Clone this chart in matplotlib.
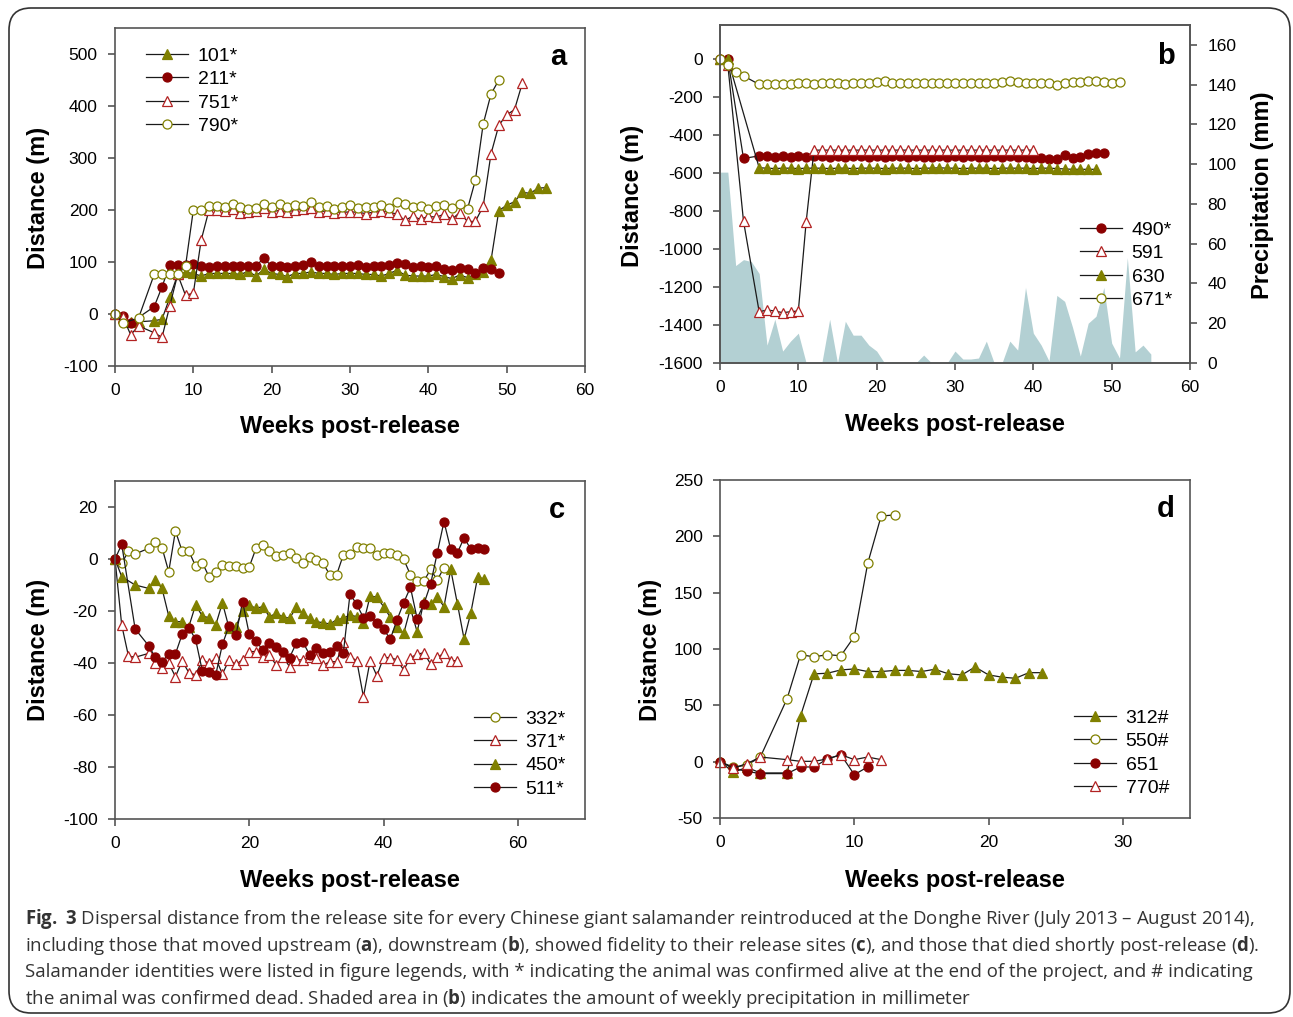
import matplotlib.pyplot as plt
from matplotlib.patches import FancyBboxPatch
from matplotlib.transforms import IdentityTransform

# ---------------- data (distance in m, by week post-release) ----------------
# panel a : moved upstream
wk_101 = [0, 1, 2, 3, 5, 6, 7, 8] + list(range(9, 56))
d_101 = [0, -8, -15, -15, -13, -10, 32, 76,
         80, 78, 73, 78, 78, 78, 78, 76, 82, 73, 86, 78, 76, 72, 78, 78, 81, 78, 78, 76, 78, 78, 78,
         76, 76, 73, 78, 84, 75, 73, 73, 73, 76, 72, 68, 75, 70,
         76, 80, 103, 199, 209, 216, 234, 232, 242, 243]
wk_211 = [0, 1, 2, 5, 6, 7, 8] + list(range(9, 50))
d_211 = [0, -4, -17, 14, 52, 95, 95,
         95, 97, 92, 91, 92, 92, 93, 92, 92, 93, 107, 92, 92, 91, 93, 94, 100, 92, 92, 92, 92, 93, 94,
         91, 92, 93, 94, 98, 97, 91, 93, 91, 92, 87, 84, 88, 86,
         78, 88, 86, 79]
wk_751 = [0, 1, 2, 3, 5, 6, 7, 8, 9, 10, 11] + list(range(12, 53))
d_751 = [0, -5, -40, -23, -36, -45, 16, 76, 36, 40, 142,
         200, 200, 198, 201, 195, 196, 198, 203, 197, 199, 196, 200, 201, 203, 197, 198, 195,
         196, 196, 196, 193, 196, 198, 196, 192, 180, 188, 182, 188, 186, 192, 182, 195, 178,
         178, 207, 308, 363, 383, 393, 444]
wk_790 = [0, 1, 3, 5, 6, 7, 8, 9, 10, 11] + list(range(12, 50))
d_790 = [0, -17, -8, 76, 76, 76, 76, 92, 200, 200,
         207, 207, 206, 212, 206, 201, 203, 212, 206, 212, 206, 209, 207, 216, 206, 208, 201, 206, 209, 204,
         206, 206, 209, 204, 216, 211, 206, 207, 202, 207, 209, 204, 212, 202,
         257, 365, 423, 450]

# panel b : moved downstream (+ weekly precipitation, mm)
wk_490 = [0, 1, 3] + list(range(5, 50))
d_490 = [0, 0, -523,
         -509, -512, -514, -512, -514, -512, -514, -512, -512, -514, -512, -514, -512, -512, -514, -512, -514,
         -512, -512, -514, -512, -514, -516, -512, -514, -512, -514, -512, -516, -514, -512, -514, -512, -514, -516,
         -518, -523, -526, -526, -505, -518, -514, -497, -493, -493]
wk_591 = [0, 1, 3, 5, 6, 7, 8, 9, 10, 11] + list(range(12, 41))
d_591 = [0, -30, -853, -1330, -1321, -1326, -1335, -1330, -1326, -856,
         -479, -479, -479, -479, -479, -479, -479, -479, -479, -479, -479, -479, -479, -479, -479,
         -479, -479, -479, -479, -479, -479, -479, -479, -479, -479, -479, -479, -479, -479]
wk_630 = [0, 1] + list(range(5, 49))
d_630 = [0, 0,
         -572, -574, -576, -574, -574, -576, -574, -574, -574, -576, -574, -574, -576, -574, -574, -574, -576,
         -574, -574, -574, -576, -574, -574, -572, -574, -574, -576, -574, -574, -574, -576, -574, -574, -574, -574,
         -576, -574, -574, -576, -578, -580, -580, -580, -580]
wk_671 = [0, 1, 2, 3] + list(range(5, 52))
d_671 = [0, -32, -70, -88,
         -133, -133, -133, -133, -130, -126, -124, -130, -128, -123, -123, -130, -126, -124, -123, -119, -116,
         -123, -123, -126, -126, -126, -123, -126, -126, -126,
         -128, -128, -128, -128, -124, -119, -116, -119, -124, -124, -124, -124, -137, -124, -119, -119, -116,
         -116, -119, -124, -119]
wk_rain = list(range(0, 56))
rain = [96, 96, 49, 52, 51, 45, 9, 22, 6, 11, 15, 0, 0, 0, 22, 0, 21, 14, 14, 9, 6, 0, 0.5, 0, 0, 0,
        4, 0, 0, 0, 6, 2, 2, 2.5, 11, 0, 0, 11, 6.5, 38, 15, 9, 1, 34, 31, 18, 3.5, 20, 23.5, 38, 10,
        2.5, 53, 5.6, 9, 4.5]

# panel c : fidelity to release site
wk_332 = [0, 1, 2, 3] + list(range(5, 50))
d_332 = [0, -1.7, 3, 1.9,
         4.1, 6.7, 4.4, -4.9, 10.8, 3, 3, -2.7, -1.4, -6.8, -4.9, -2.3, -2.7, -2.7, -3.6, -3, 4.1, 5.4,
         3.1, 1.2, 1.5, 2.4, 0.3, -1.7, 0.6, -0.4, -1.7, -6.1, -6.1, 1.5, 1.9, 4.5, 4.1, 4.1, 1.5, 2.2,
         2.4, 1.5, -0.1, -6.1, -8.5, -8.5, -4, -8.1, -3.3]
wk_371 = [0, 1, 2, 3] + list(range(5, 52))
d_371 = [0, -25.4, -37.3, -37.8,
         -36.3, -40.1, -42, -40, -45.3, -39.2, -43.7, -44.6, -38.8, -40.1, -38.2, -44.2, -38.8, -40.5,
         -38.8, -35.6, -35.6, -37.8, -36.9, -40.8, -37.6, -41.4, -38.8, -38.8, -37.6, -38.2, -40.8,
         -39.5, -39.5, -32, -37.6, -39.1, -53, -39.1, -44.9, -37.9, -37.9, -38.8, -42.7, -37.9, -36.7,
         -36, -40.4, -37.8, -36.3, -39.1, -39.1]
wk_450 = [0, 1, 3] + list(range(5, 56))
d_450 = [0, -6.8, -10,
         -11.3, -8.1, -11.3, -21.9, -24.1, -24.1, -26, -17.7, -21.9, -22.6, -25.4, -16.8, -26.7, -26,
         -19.9, -17.7, -19, -18.3, -22.2, -20.9, -22.2, -22.8, -18.6, -20.9, -22.8, -24.1, -24.5, -25,
         -23.4, -22.8, -21.5, -22.2, -24.7, -14.2, -14.7, -18.3, -22.4, -26, -28.6, -19, -28, -16.4,
         -17.3, -14.7, -18.3, -4, -17.3, -30.9, -20.6, -7.1, -7.6]
wk_511 = [0, 1, 3] + list(range(5, 56))
d_511 = [0, 5.6, -26.9,
         -33.3, -37.8, -39.5, -36.5, -36.5, -29, -26.4, -30.9, -43, -43.3, -44.6, -32.8, -25.6, -29.4,
         -16.4, -29, -31.5, -35, -32.4, -34, -35.6, -37.9, -32.4, -32, -36.9, -34.4, -36.3, -35.6,
         -33.3, -36.3, -13.5, -17.4, -22.6, -21.9, -24.7, -27, -30.8, -23.4, -16.8, -10.9, -22.9,
         -17.3, -9.7, 2.4, 14.4, 3.7, 2.4, 8.2, 3.7, 4.1, 3.7]

# panel d : died shortly post-release
wk_312 = [0, 1, 2, 3] + list(range(5, 25))
d_312 = [0, -9.4, -5, -10, -10, 40.7, 77.9, 78.5, 81.4, 82.3, 80, 80, 81, 81, 80, 82, 78, 77, 84, 77,
         75, 74, 79, 79]
wk_550 = [0, 1, 2, 3] + list(range(5, 14))
d_550 = [0, -5, -3, 4, 56, 95, 93, 95, 94, 111, 176, 218, 219]
wk_651 = [0, 1, 2, 3] + list(range(5, 12))
d_651 = [0, -6, -8.6, -10.6, -10.6, -4.7, -4.7, 2.4, 6.2, -11.5, -4.7]
wk_770 = [0, 1, 2, 3] + list(range(5, 13))
d_770 = [0, -5.6, -1.8, 4.1, 1.8, 0.3, 0.3, 2.4, 6.2, 1.8, 4.1, 1.8]

caption = [
    r"$\mathbf{Fig.\;3}$ Dispersal distance from the release site for every Chinese giant salamander reintroduced at the Donghe River (July 2013 – August 2014),",
    r"including those that moved upstream ($\mathbf{a}$), downstream ($\mathbf{b}$), showed fidelity to their release sites ($\mathbf{c}$), and those that died shortly post-release ($\mathbf{d}$).",
    "Salamander identities were listed in figure legends, with * indicating the animal was confirmed alive at the end of the project, and # indicating",
    r"the animal was confirmed dead. Shaded area in ($\mathbf{b}$) indicates the amount of weekly precipitation in millimeter",
]

# ---------------- style ----------------
plt.rcParams['font.family'] = ['Liberation Sans', 'DejaVu Sans']
plt.rcParams['axes.unicode_minus'] = False
plt.rcParams['mathtext.fontset'] = 'custom'
plt.rcParams['mathtext.rm'] = 'Open Sans'
plt.rcParams['mathtext.bf'] = 'Open Sans:bold'

W, H = 1293, 1017
OLIVE = '#808000'
RED = '#8b0000'
RED2 = '#b22222'
GRAY = '#555555'
FILL = '#b3d0d3'

olive_tri = dict(marker='^', ms=7, mfc=OLIVE, mec=OLIVE)
red_dot = dict(marker='o', ms=6.5, mfc=RED, mec=RED)
red_tri = dict(marker='^', ms=7, mfc='white', mec=RED2)
olive_ring = dict(marker='o', ms=6.5, mfc='white', mec=OLIVE)

fig = plt.figure(figsize=(W / 100, H / 100), dpi=100)


def box(l, r, t, b):
    return [l / W, 1 - b / H, (r - l) / W, (b - t) / H]


def style(ax):
    for s in ax.spines.values():
        s.set_color(GRAY)
        s.set_linewidth(1.2)
    ax.tick_params(direction='out', length=5, width=1.2, color=GRAY, labelsize=12.5, pad=7.5)


def series(ax, x, y, lab, st):
    ax.plot(x, y, color='#1a1a1a', lw=0.9, mew=0.9, label=lab, clip_on=False, **st)


def legend(ax, x, y):
    ax.legend(loc='upper left', bbox_to_anchor=(x / W, 1 - y / H), bbox_transform=fig.transFigure,
              frameon=False, fontsize=14, handlelength=2.16, handletextpad=0.49, labelspacing=0.3,
              borderpad=0, borderaxespad=0, numpoints=1)


def label(x, y, s, rot=0):
    fig.text(x / W, 1 - y / H, s, rotation=rot, ha='center', va='center', fontsize=17, fontweight='bold')


def letter(x, y, s):
    fig.text(x / W, 1 - y / H, s, ha='center', va='baseline', fontsize=21, fontweight='bold')


# ---- a ----
axa = fig.add_axes(box(115, 585, 28, 366))
series(axa, wk_101, d_101, '101*', olive_tri)
series(axa, wk_211, d_211, '211*', red_dot)
series(axa, wk_751, d_751, '751*', red_tri)
series(axa, wk_790, d_790, '790*', olive_ring)
axa.set_xlim(0, 60)
axa.set_ylim(-100, 550)
axa.set_xticks(range(0, 61, 10))
axa.set_yticks(range(-100, 501, 100))
style(axa)
legend(axa, 146, 47)
label(38, 198, 'Distance (m)', 90)
label(350, 427, 'Weeks post-release')
letter(558, 65, 'a')

# ---- b ----
axb = fig.add_axes(box(720, 1190, 25, 363))
axr = axb.twinx()
axr.fill_between(wk_rain, rain, color=FILL, lw=0)
axr.set_ylim(0, 170)
axr.set_yticks(range(0, 161, 20))
axb.set_zorder(axr.get_zorder() + 1)
axb.patch.set_visible(False)
series(axb, wk_490, d_490, '490*', red_dot)
series(axb, wk_591, d_591, '591', red_tri)
series(axb, wk_630, d_630, '630', olive_tri)
series(axb, wk_671, d_671, '671*', olive_ring)
axb.set_xlim(0, 60)
axb.set_ylim(-1600, 180)
axb.set_xticks(range(0, 61, 10))
axb.set_yticks(range(-1600, 1, 200))
style(axb)
style(axr)
legend(axb, 1080, 221)
label(633, 196, 'Distance (m)', 90)
label(1262, 195, 'Precipitation (mm)', 90)
label(955, 425, 'Weeks post-release')
letter(1166, 64, 'b')

# ---- c ----
axc = fig.add_axes(box(115, 585, 481, 819))
series(axc, wk_332, d_332, '332*', olive_ring)
series(axc, wk_371, d_371, '371*', red_tri)
series(axc, wk_450, d_450, '450*', olive_tri)
series(axc, wk_511, d_511, '511*', red_dot)
axc.set_xlim(0, 70)
axc.set_ylim(-100, 30)
axc.set_xticks(range(0, 61, 20))
axc.set_yticks(range(-100, 21, 20))
style(axc)
legend(axc, 474, 710)
label(38, 650, 'Distance (m)', 90)
label(350, 880, 'Weeks post-release')
letter(557, 518, 'c')

# ---- d ----
axd = fig.add_axes(box(720, 1190, 480, 818))
series(axd, wk_312, d_312, '312#', olive_tri)
series(axd, wk_550, d_550, '550#', olive_ring)
series(axd, wk_651, d_651, '651', red_dot)
series(axd, wk_770, d_770, '770#', red_tri)
axd.set_xlim(0, 35)
axd.set_ylim(-50, 250)
axd.set_xticks(range(0, 31, 10))
axd.set_yticks(range(-50, 251, 50))
style(axd)
legend(axd, 1074, 709)
label(650, 650, 'Distance (m)', 90)
label(955, 880, 'Weeks post-release')
letter(1166, 517, 'd')

# ---- caption + outer frame ----
for i, line in enumerate(caption):
    fig.text(25 / W, 1 - (924 + 26.7 * i) / H, line, ha='left', va='baseline',
             fontsize=13.4, color='#333333', family='Open Sans')

fig.patches.append(FancyBboxPatch((9, 4), 1281, 1005, boxstyle='round,pad=0,rounding_size=22',
                                  transform=IdentityTransform(), fill=False, ec='#333333', lw=1.2))

fig.savefig('out.png', dpi=100)
